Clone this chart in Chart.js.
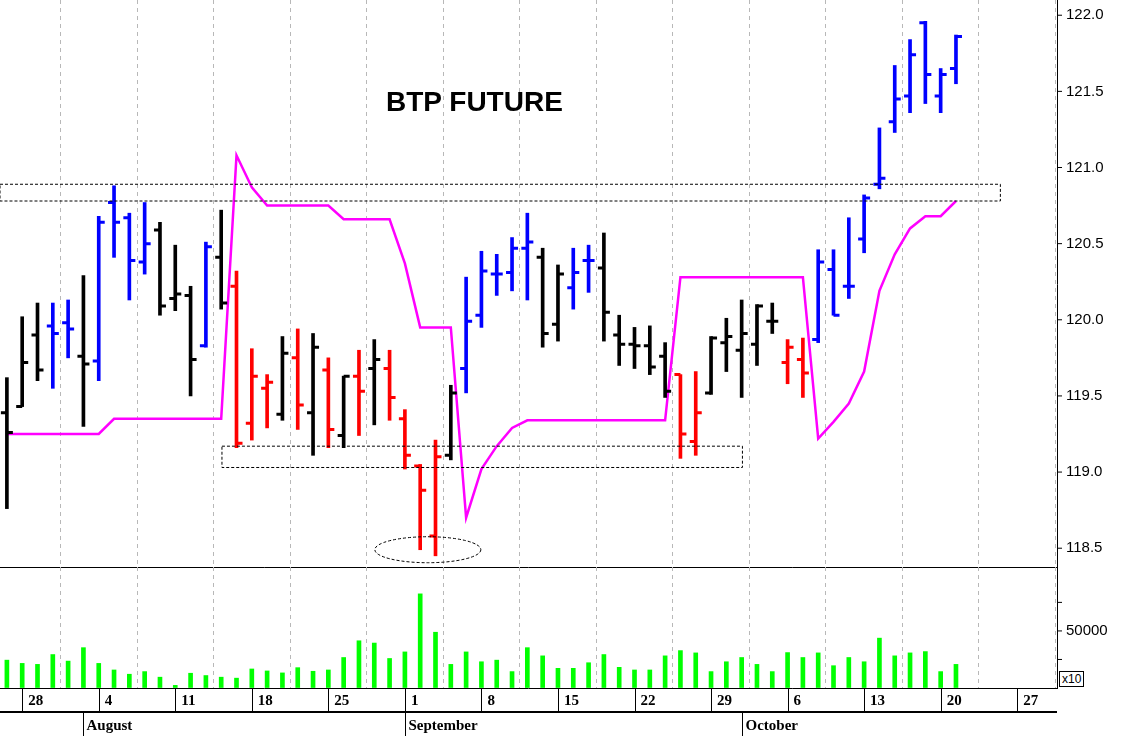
<!DOCTYPE html>
<html><head><meta charset="utf-8">
<script src="https://cdn.jsdelivr.net/npm/chart.js@4.4.1/dist/chart.umd.min.js"></script>
<style>
html,body{margin:0;padding:0;background:#fff;width:1127px;height:736px;overflow:hidden;position:relative}
#c1{position:absolute;left:0;top:0}
#c2{position:absolute;left:0;top:567px}
#title{position:absolute;left:386px;top:86px;font:bold 28px "Liberation Sans",Arial,sans-serif;color:#000}
#x10{position:absolute;left:1059px;top:671px;font:12px "Liberation Sans",Arial;border:1px solid #000;padding:0 2px;background:#fff}
</style></head><body>
<canvas id="c1" width="1127" height="568" style="width:1127px;height:568px"></canvas>
<canvas id="c2" width="1127" height="169" style="width:1127px;height:169px"></canvas>
<div id="title">BTP FUTURE</div>
<div id="x10">x10</div>
<script>
// bar index 0 = Fri 25 Jul; weekdays only
const opens  = [119.39,119.43,119.90,119.96,119.98,119.76,119.73,120.77,120.67,120.38,120.59,120.14,120.16,119.83,120.41,120.22,119.32,119.55,119.38,119.75,119.39,119.67,119.24,119.63,119.68,119.68,119.35,119.04,118.58,119.11,119.68,120.03,120.30,120.31,120.47,120.41,119.97,120.21,120.39,120.34,119.90,119.84,119.83,119.76,119.64,119.20,119.52,119.85,119.80,119.84,119.99,119.72,119.74,119.87,120.33,120.22,120.53,120.89,121.30,121.47,121.95,121.47,121.65];
const highs  = [119.62,120.02,120.11,120.11,120.13,120.29,120.68,120.88,120.70,120.77,120.64,120.49,120.22,120.51,120.72,120.32,119.81,119.64,119.89,119.94,119.91,119.75,119.63,119.80,119.87,119.80,119.41,119.05,119.21,119.57,120.28,120.45,120.43,120.54,120.70,120.47,120.36,120.47,120.49,120.57,120.03,119.95,119.96,119.85,119.64,119.66,119.89,120.01,120.13,120.10,120.11,119.87,119.88,120.46,120.46,120.67,120.82,121.26,121.67,121.84,121.96,121.65,121.87];
const lows   = [118.76,119.43,119.60,119.55,119.75,119.30,119.60,120.41,120.13,120.30,120.03,120.06,119.50,119.82,120.07,119.16,119.21,119.29,119.34,119.28,119.11,119.16,119.16,119.24,119.31,119.34,119.02,118.49,118.45,119.08,119.52,119.95,120.16,120.19,120.13,119.82,119.86,120.07,120.18,119.86,119.70,119.68,119.64,119.49,119.09,119.11,119.51,119.66,119.49,119.70,119.91,119.58,119.49,119.85,120.03,120.14,120.44,120.86,121.23,121.36,121.42,121.36,121.55];
const closes = [119.26,119.72,119.67,119.91,119.94,119.71,120.64,120.64,120.39,120.50,120.09,120.17,119.74,120.48,120.11,119.19,119.63,119.59,119.78,119.44,119.82,119.28,119.63,119.53,119.74,119.49,119.11,118.88,119.10,119.52,119.99,120.32,120.30,120.47,120.51,119.91,120.30,120.31,120.39,120.05,119.84,119.83,119.69,119.53,119.25,119.39,119.88,119.89,119.91,120.09,119.99,119.82,119.65,120.38,120.03,120.22,120.80,120.93,121.45,121.74,121.61,121.61,121.86];
const trend  = "KKKBBKBBBBKKKBKRRRKRKRKRKRRRRKBBBBBKKBBKKKKKRRKKKKKRRBBBBBBBBBB";
const stopLine = [119.25,119.25,119.25,119.25,119.25,119.25,119.25,119.35,119.35,119.35,119.35,119.35,119.35,119.35,119.35,121.08,120.87,120.75,120.75,120.75,120.75,120.75,120.66,120.66,120.66,120.66,120.37,119.95,119.95,119.95,118.70,119.02,119.17,119.29,119.34,119.34,119.34,119.34,119.34,119.34,119.34,119.34,119.34,119.34,120.28,120.28,120.28,120.28,120.28,120.28,120.28,120.28,120.28,119.22,119.33,119.45,119.66,120.19,120.43,120.60,120.68,120.68,120.78];
const volumes = [24400,21550,20690,29310,23560,35340,21550,15800,12070,14370,9480,2300,12930,10920,9480,8620,16670,14940,13220,17820,14650,15800,26720,41380,39370,25860,31610,82470,48850,20690,31610,22990,24400,14370,35340,28160,17240,17240,22130,29310,18100,15800,15800,28160,32760,30750,14370,22990,26720,20690,14370,31030,26720,30750,19540,26720,22990,43680,28160,30750,31900,14370,20690];
const mondayIdx = [1,6,11,16,21,26,31,36,41,46,51,56,61,66];
const dayLabels = ["28","4","11","18","25","1","8","15","22","29","6","13","20","27"];
const monthStarts = [5,26,48];
const monthLabels = ["August","September","October"];
const priceTicks = [118.5,119.0,119.5,120.0,120.5,121.0,121.5,122.0];

const XMIN=-0.45, XMAX=68.6;
const colMap={B:'#0000ff',R:'#ff0000',K:'#000000'};
const idx = opens.map((_,i)=>i);
const barColors = idx.map(i=>colMap[trend[i]]);

function rightAxis(s){ s.width=70; s.paddingTop=0; s.paddingBottom=0; }
const gridV = {color:'#b8b8b8', lineWidth:1, drawTicks:false};

const ohlcPlugin = {
  id:'ohlc',
  afterDatasetsDraw(chart){
    const c=chart.ctx, x=chart.scales.x, y=chart.scales.y, a=chart.chartArea;
    c.save(); c.lineWidth=3; c.lineCap='butt';
    idx.forEach(i=>{
      const px=x.getPixelForValue(i);
      c.strokeStyle=barColors[i];
      c.beginPath();
      c.moveTo(px-6,y.getPixelForValue(opens[i])); c.lineTo(px,y.getPixelForValue(opens[i]));
      c.moveTo(px,y.getPixelForValue(closes[i])); c.lineTo(px+6,y.getPixelForValue(closes[i]));
      c.stroke();
    });
    c.lineWidth=1; c.strokeStyle='#000'; c.setLineDash([3,2]);
    const xl=x.getPixelForValue(XMIN), xr=x.getPixelForValue(64.9);
    c.strokeRect(xl, y.getPixelForValue(120.89), xr-xl, y.getPixelForValue(120.78)-y.getPixelForValue(120.89));
    const bx1=x.getPixelForValue(14.05), bx2=x.getPixelForValue(48.05);
    c.strokeRect(bx1, y.getPixelForValue(119.17), bx2-bx1, y.getPixelForValue(119.03)-y.getPixelForValue(119.17));
    c.beginPath();
    c.ellipse(x.getPixelForValue(27.5), y.getPixelForValue(118.49), 53, 13, 0, 0, Math.PI*2);
    c.stroke();
    c.setLineDash([]);
    c.fillStyle='#000'; c.font='15px "Liberation Sans"'; c.textBaseline='middle';
    priceTicks.forEach(v=>{const py=y.getPixelForValue(v); c.fillText(v.toFixed(1), a.right+9, py);
      c.beginPath(); c.moveTo(a.right,py); c.lineTo(a.right+5,py); c.stroke();});
    c.beginPath(); c.moveTo(0,a.bottom-0.5); c.lineTo(a.right,a.bottom-0.5); c.stroke();
    c.restore();
  }
};

new Chart(document.getElementById('c1'),{
  data:{datasets:[
    {type:'line',data:idx.map(i=>({x:i,y:stopLine[i]})),borderColor:'#ff00ff',borderWidth:2.5,pointRadius:0,tension:0,order:2},
    {type:'bar',data:idx.map(i=>({x:i,y:[lows[i],highs[i]]})),backgroundColor:barColors,barThickness:3,order:1,borderSkipped:false}
  ]},
  options:{
    responsive:false,animation:false,
    layout:{padding:0},
    plugins:{legend:{display:false},tooltip:{enabled:false}},
    scales:{
      x:{type:'linear',offset:false,min:XMIN,max:XMAX,afterBuildTicks:s=>{s.ticks=mondayIdx.map(v=>({value:v}));},
         ticks:{display:false},grid:{...gridV},border:{display:false,dash:[4,4]},afterFit:s=>{s.height=0;}},
      y:{position:'right',min:118.37,max:122.1,afterFit:rightAxis,
         ticks:{display:false},
         grid:{drawOnChartArea:false,drawTicks:false},
         border:{display:true,color:'#000',width:1}}
    }
  },
  plugins:[ohlcPlugin]
});

const bottomPlugin={
  id:'bottom',
  afterDraw(chart){
    const c=chart.ctx, x=chart.scales.x, y=chart.scales.y, a=chart.chartArea;
    c.save(); c.strokeStyle='#000'; c.lineWidth=1;
    c.beginPath(); c.moveTo(0,a.bottom+0.5); c.lineTo(a.right,a.bottom+0.5); c.stroke();
    c.lineWidth=2;
    c.beginPath(); c.moveTo(0,a.bottom+24); c.lineTo(a.right,a.bottom+24); c.stroke();
    c.lineWidth=1;
    mondayIdx.forEach(v=>{const px=Math.round(x.getPixelForValue(v))+0.5;c.beginPath();c.moveTo(px,a.bottom);c.lineTo(px,a.bottom+24);c.stroke();});
    c.font='bold 15px "Liberation Serif"'; c.fillStyle='#000'; c.textBaseline='middle';
    mondayIdx.forEach((v,k)=>{c.fillText(dayLabels[k], x.getPixelForValue(v)+6, a.bottom+13);});
    monthStarts.forEach((v,k)=>{const px=Math.round(x.getPixelForValue(v))+0.5;
      c.beginPath();c.moveTo(px,a.bottom+24);c.lineTo(px,a.bottom+48);c.stroke();
      c.fillText(monthLabels[k],px+3,a.bottom+38);});
    c.font='15px "Liberation Sans"';
    [25000,50000,75000].forEach(v=>{const py=y.getPixelForValue(v);
      c.beginPath(); c.moveTo(a.right,py); c.lineTo(a.right+5,py); c.stroke();
      if(v===50000) c.fillText('50000', a.right+9, py);});
    c.restore();
  }
};

new Chart(document.getElementById('c2'),{
  type:'bar',
  data:{datasets:[{data:idx.map(i=>({x:i,y:volumes[i]})),backgroundColor:'#00ff00',barThickness:4}]},
  options:{
    responsive:false,animation:false,
    layout:{padding:0},
    plugins:{legend:{display:false},tooltip:{enabled:false}},
    scales:{
      x:{type:'linear',offset:false,min:XMIN,max:XMAX,afterBuildTicks:s=>{s.ticks=mondayIdx.map(v=>({value:v}));},
         ticks:{display:false},grid:{...gridV},border:{display:false,dash:[4,4]},afterFit:s=>{s.height=48;}},
      y:{position:'right',min:0,max:106000,afterFit:rightAxis,
         ticks:{display:false},
         grid:{drawOnChartArea:false,drawTicks:false},
         border:{display:true,color:'#000'}}
    }
  },
  plugins:[bottomPlugin]
});
</script>
</body></html>
